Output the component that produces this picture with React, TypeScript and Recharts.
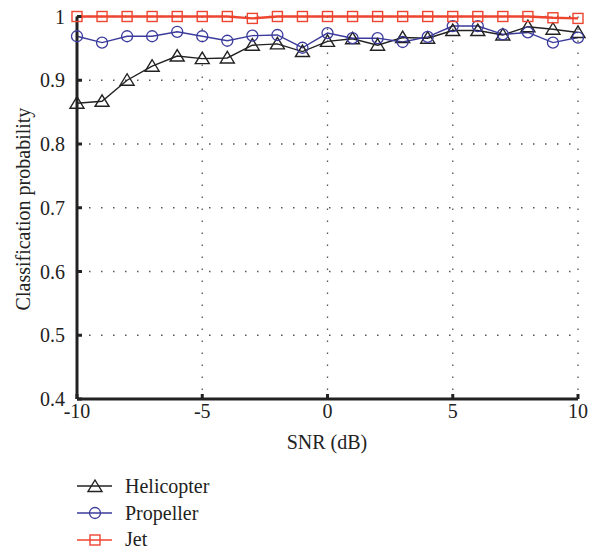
import { LineChart, Line, XAxis, YAxis, CartesianGrid } from 'recharts'

const snr = [-10, -9, -8, -7, -6, -5, -4, -3, -2, -1, 0, 1, 2, 3, 4, 5, 6, 7, 8, 9, 10]
const helicopter = [0.864, 0.867, 0.9, 0.922, 0.938, 0.934, 0.935, 0.955, 0.957, 0.945, 0.961, 0.965, 0.955, 0.967, 0.966, 0.978, 0.978, 0.971, 0.984, 0.98, 0.975]
const propeller = [0.969, 0.959, 0.969, 0.969, 0.976, 0.969, 0.962, 0.97, 0.971, 0.951, 0.974, 0.966, 0.966, 0.96, 0.968, 0.985, 0.985, 0.972, 0.975, 0.959, 0.967]
const jet = [1, 1, 1, 1, 1, 1, 1, 0.997, 1, 1, 1, 1, 1, 1, 1, 1, 1, 1, 1, 0.998, 0.997]
const xTicks = [-10, -5, 0, 5, 10]
const yTicks = [0.4, 0.5, 0.6, 0.7, 0.8, 0.9, 1]

const data = snr.map((s, i) => ({ snr: s, helicopter: helicopter[i], propeller: propeller[i], jet: jet[i] }))

const FONT = "'Liberation Serif', 'DejaVu Serif', serif"
const FS = 20
const BLACK = '#222222'
const BLUE = '#3b3b9c'
const RED = '#ee4530'

const tri = (cx: number, cy: number) => `M${cx},${cy - 6.5} L${cx - 7},${cy + 5} L${cx + 7},${cy + 5} Z`

const TriDot = (p: any) => (
    <path key={`t${p.index}`} d={tri(p.cx, p.cy)} fill="none" stroke={BLACK} strokeWidth={1.4} />
)
const CircDot = (p: any) => (
    <circle key={`c${p.index}`} cx={p.cx} cy={p.cy} r={5.5} fill="none" stroke={BLUE} strokeWidth={1.3} />
)
const SqDot = (p: any) => (
    <rect key={`s${p.index}`} x={p.cx - 5} y={p.cy - 5} width={10} height={10} fill="none" stroke={RED} strokeWidth={1.4} />
)

const legendItems = [
    { name: 'Helicopter', color: BLACK, marker: 'tri' },
    { name: 'Propeller', color: BLUE, marker: 'circ' },
    { name: 'Jet', color: RED, marker: 'sq' },
]

function LegendBox() {
    return (
        <div style={{ position: 'absolute', left: 77, top: 473, fontFamily: FONT, fontSize: FS, color: '#222' }}>
            {legendItems.map((it) => (
                <div key={it.name} style={{ display: 'flex', alignItems: 'center', height: 26.8 }}>
                    <svg width={48} height={20}>
                        <line x1={0} y1={10} x2={35} y2={10} stroke={it.color} strokeWidth={1.4} />
                        {it.marker === 'tri' && <path d={tri(18, 10.5)} fill="none" stroke={it.color} strokeWidth={1.4} />}
                        {it.marker === 'circ' && <circle cx={18} cy={10} r={5.5} fill="none" stroke={it.color} strokeWidth={1.3} />}
                        {it.marker === 'sq' && <rect x={13} y={5} width={10} height={10} fill="none" stroke={it.color} strokeWidth={1.4} />}
                    </svg>
                    <span>{it.name}</span>
                </div>
            ))}
        </div>
    )
}

const tickStyle = { fill: '#222', fontSize: FS, fontFamily: FONT }
const frame = { stroke: BLACK, strokeWidth: 3 }

export default function App() {
    return (
        <div style={{ position: 'absolute', left: 0, top: 0, width: 600, height: 553, background: '#fff' }}>
            <LineChart
                width={600}
                height={553}
                data={data}
                margin={{ top: 16.5, right: 22, left: 17, bottom: 124 }}
            >
                <CartesianGrid stroke="#555" strokeWidth={1.3} strokeDasharray="1.5 10.5" />
                <XAxis
                    dataKey="snr"
                    type="number"
                    domain={[-10, 10]}
                    ticks={xTicks}
                    height={30}
                    axisLine={frame}
                    tickLine={frame}
                    tickSize={-5}
                    tickMargin={10}
                    tick={tickStyle}
                    label={{
                        content: () => (
                            <text x={327} y={449} textAnchor="middle" fontFamily={FONT} fontSize={FS} fill="#222">SNR (dB)</text>
                        ),
                    }}
                />
                <XAxis
                    xAxisId="top"
                    orientation="top"
                    dataKey="snr"
                    type="number"
                    domain={[-10, 10]}
                    ticks={xTicks}
                    height={0}
                    axisLine={frame}
                    tickLine={frame}
                    tickSize={-5}
                    tick={false}
                />
                <YAxis
                    type="number"
                    domain={[0.4, 1]}
                    ticks={yTicks}
                    width={60}
                    axisLine={frame}
                    tickLine={frame}
                    tickSize={-5}
                    tickMargin={17}
                    tick={tickStyle}
                    tickFormatter={(v: number) => `${Number(v.toFixed(1))}`}
                    label={{
                        content: () => (
                            <text x={30} y={209} transform="rotate(-90 30 209)" textAnchor="middle" fontFamily={FONT} fontSize={FS} fill="#222">Classification probability</text>
                        ),
                    }}
                />
                <YAxis
                    yAxisId="right"
                    orientation="right"
                    type="number"
                    domain={[0.4, 1]}
                    ticks={yTicks}
                    width={0}
                    axisLine={frame}
                    tickLine={frame}
                    tickSize={-5}
                    tick={false}
                />
                <Line dataKey="helicopter" name="Helicopter" stroke={BLACK} strokeWidth={1.4} dot={TriDot} isAnimationActive={false} />
                <Line dataKey="propeller" name="Propeller" stroke={BLUE} strokeWidth={1.4} dot={CircDot} isAnimationActive={false} />
                <Line dataKey="jet" name="Jet" stroke={RED} strokeWidth={2.4} dot={SqDot} isAnimationActive={false} />
            </LineChart>
            <LegendBox />
        </div>
    )
}
